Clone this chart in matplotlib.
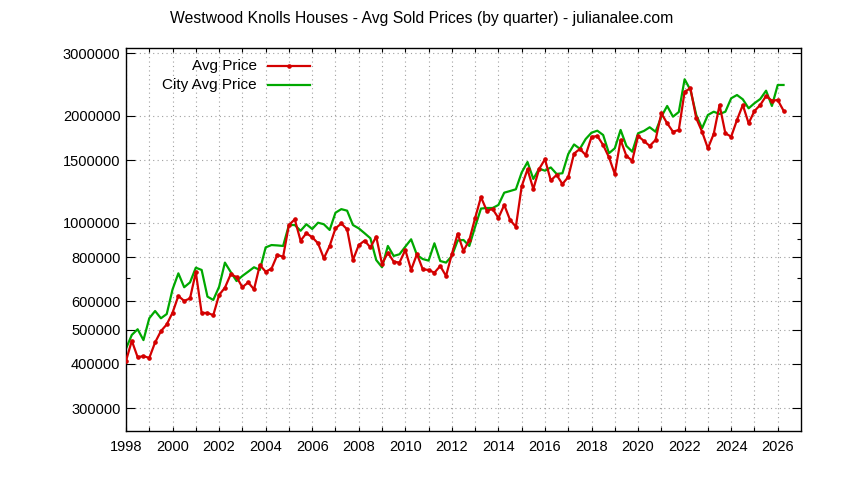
import numpy as np
import matplotlib
matplotlib.use('Agg')
import matplotlib.pyplot as plt
from matplotlib.ticker import NullFormatter

plt.rcParams['font.family'] = ['Liberation Sans', 'DejaVu Sans']

# quarterly data, 1998 Q1 .. 2026 Q2 (values in thousands of dollars)
quarters = np.arange(1998, 2026.5, 0.25)

avg_price_k = [
    408, 465, 418, 421, 416, 460, 495, 517, 558, 622,
    602, 612, 725, 557, 557, 549, 626, 656, 716, 703,
    658, 679, 649, 760, 728, 742, 811, 802, 985, 1022,
    890, 934, 910, 875, 794, 860, 964, 995, 958, 785,
    865, 890, 852, 913, 765, 823, 777, 772, 838, 736,
    816, 739, 736, 723, 755, 708, 816, 931, 832, 894,
    1031, 1181, 1081, 1093, 1031, 1122, 1018, 974, 1266, 1414,
    1244, 1417, 1509, 1315, 1363, 1285, 1345, 1566, 1613, 1551,
    1744, 1755, 1655, 1528, 1372, 1710, 1541, 1495, 1755, 1699,
    1645, 1710, 2033, 1905, 1804, 1825, 2339, 2391, 1968, 1804,
    1620, 1778, 2146, 1786, 1747, 1947, 2146, 1905, 2064, 2146,
    2275, 2206, 2216, 2068,
]

city_avg_k = [
    442, 483, 501, 467, 538, 564, 538, 553, 649, 720,
    658, 679, 747, 736, 619, 606, 660, 772, 726, 685,
    708, 728, 749, 736, 852, 865, 863, 860, 985, 985,
    949, 990, 960, 1000, 990, 954, 1067, 1092, 1081, 985,
    964, 934, 904, 785, 749, 860, 806, 815, 856, 898,
    811, 790, 782, 875, 780, 772, 806, 891, 894, 860,
    974, 1096, 1100, 1100, 1122, 1215, 1228, 1242, 1385, 1482,
    1328, 1420, 1401, 1431, 1372, 1378, 1561, 1661, 1615, 1721,
    1793, 1816, 1766, 1569, 1620, 1825, 1645, 1585, 1786, 1813,
    1857, 1804, 1989, 2132, 1989, 2050, 2535, 2365, 2011, 1845,
    2011, 2054, 2024, 2054, 2241, 2289, 2226, 2100, 2170, 2231,
    2354, 2132, 2443, 2443,
]

avg_price = np.array(avg_price_k) * 1000
city_avg = np.array(city_avg_k) * 1000

y_ticks = [300000, 400000, 500000, 600000, 800000, 1000000, 1500000, 2000000, 3000000]
y_minor = [700000, 900000]
x_major = np.arange(1998, 2027, 2)
x_minor = np.arange(1998, 2027, 1)

red = '#d40000'
green = '#00a800'

fig = plt.figure(figsize=(8.44, 4.8), dpi=100)
ax = fig.add_axes([126 / 844, 1 - 430.7 / 480, 675 / 844, 382.7 / 480])

ax.plot(quarters, avg_price, color=red, lw=1.6, marker='o', ms=2.3, zorder=3)
ax.plot(quarters, city_avg, color=green, lw=1.6, zorder=2)

ax.set_yscale('log')
ax.set_ylim(259500, 3105000)
ax.set_xlim(1998, 2027)

ax.set_yticks(y_ticks, labels=[str(t) for t in y_ticks])
ax.set_yticks(y_minor, minor=True)
ax.yaxis.set_minor_formatter(NullFormatter())
ax.set_xticks(x_major, labels=[str(t) for t in x_major])
ax.set_xticks(x_minor, minor=True)

ax.tick_params(axis='both', which='both', direction='in', top=True, right=True,
               labelsize=10.5, width=0.8, color='black')
ax.tick_params(axis='y', which='major', length=6.5, pad=4)
ax.tick_params(axis='y', which='minor', length=3)
ax.tick_params(axis='x', which='both', length=3, pad=7)

grid_style = dict(color='#a0a0a0', linestyle=(0, (1, 3)), linewidth=0.8)
ax.yaxis.grid(True, which='major', **grid_style)
ax.xaxis.grid(True, which='both', **grid_style)
ax.set_axisbelow(True)

for s in ax.spines.values():
    s.set_linewidth(1.0)

# gnuplot-style key: right-aligned text, sample to the right
key_rows = [('Avg Price', red, 'o', 0.953), ('City Avg Price', green, None, 0.903)]
for label, col, mk, yy in key_rows:
    ax.text(0.194, yy, label, transform=ax.transAxes, ha='right', va='center', fontsize=11)
    ax.plot([0.2104, 0.2726], [yy, yy], transform=ax.transAxes, color=col, lw=1.6)
    if mk:
        ax.plot([0.2415], [yy], transform=ax.transAxes, color=col, marker=mk, ms=2.3)

fig.text(0.5, 1 - 19 / 480, 'Westwood Knolls Houses - Avg Sold Prices (by quarter) - julianalee.com',
         ha='center', va='center', fontsize=11.3)

fig.savefig('out.png', dpi=100)
